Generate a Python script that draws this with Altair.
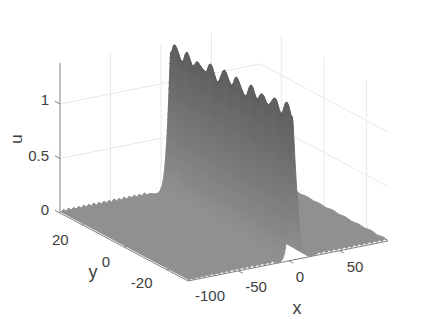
import altair as alt
import numpy as np
import pandas as pd

# ---- values ----
x_range = [-100, 98]
y_range = [-30, 30]
u_top = 1.376
x_ticks = [-100, -50, 0, 50]
y_ticks = [20, 0, -20]
u_ticks = [0, 0.5, 1]
u_tick_labels = ["0", "0.5", "1"]
x_label_shift = [(22, 15), (17.5, 16), (11, 16), (15.5, 16)]
y_label_shift = [(-21, 16), (-18, 15), (-25, 13)]
u_label_shift = [(-11, -3), (-11, -3), (-11, -4)]

crest_y = [30, 29, 28.3, 27.6, 26.9, 26, 25, 24.2, 23.4, 22.4, 21.7, 21, 20, 19.5, 18.8, 18, 17.1, 16.4, 15.7, 14.5, 13.3, 12.5, 11.8, 10.9, 10.1, 9.3, 8.2, 7.4, 6.7, 5.9, 4.1, 3.3, 2.5, 1.2, 0.5, -0.1, -0.9, -1.9, -2.6, -3.3, -4.8, -6.1, -6.9, -7.7, -9, -9.8, -10.6, -11.6, -12.2, -12.8, -13.5, -14.4, -15.2, -16, -17.2, -18.1, -19, -20.7, -21.5, -22.3, -23.4, -24.4, -25.2, -26.5, -27.3, -28, -29.2, -30]
crest_u = [1.257, 1.30, 1.355, 1.365, 1.35, 1.31, 1.265, 1.245, 1.27, 1.345, 1.362, 1.345, 1.30, 1.275, 1.264, 1.285, 1.32, 1.327, 1.315, 1.295, 1.28, 1.276, 1.30, 1.36, 1.375, 1.355, 1.295, 1.255, 1.246, 1.27, 1.375, 1.392, 1.375, 1.32, 1.295, 1.29, 1.31, 1.375, 1.389, 1.375, 1.315, 1.27, 1.261, 1.285, 1.375, 1.393, 1.375, 1.325, 1.30, 1.295, 1.32, 1.358, 1.367, 1.355, 1.31, 1.296, 1.32, 1.385, 1.396, 1.38, 1.315, 1.28, 1.31, 1.405, 1.421, 1.40, 1.325, 1.305]
crest_mean = 1.33
ridge_end_x = [3.5, 9.0]

profile_d = [-14, -12, -11, -10, -9.5, -9, -8.5, -8, -7.5, -7, -6.5, -6.25, -6, -5.75, -5.5, -5.25, -5, -4.75, -4.5, -4.25, -4, -3.75, -3.5, -3.25, -3, -2.75, -2.5, -2.25, -2, -1.75, -1.5, -1.25, -1, -0.75, -0.5, -0.25, 0, 0.5, 1, 2, 3, 4, 5, 6, 7, 8, 9, 11, 13, 15, 17.5]
profile_f = [0, .006, .012, .02, .027, .035, .045, .058, .075, .095, .12, .135, .15, .167, .185, .205, .226, .25, .275, .30, .33, .36, .39, .425, .46, .5, .54, .58, .625, .67, .72, .77, .82, .87, .92, .97, 1, .96, .9, .75, .62, .5, .41, .32, .22, .15, .09, .05, .025, .01, 0]

floor_x = [-99, -96.5, -94, -91.5, -89, -86.5, -84, -81.5, -79, -76.5, -74, -71.5, -69, -66.5, -64, -61.5, -59, -56.5, -54, -51.5, -49, -46.5, -44, -41.5, -39, -36.5, -34, -31.5, -29, -26.5, -24, -21.5, -19, -16.5, -14, -11.5]
floor_back = [.006, .028, .005, .030, .006, .027, .007, .029, .005, .030, .007, .028, .006, .031, .005, .028, .007, .030, .006, .028, .005, .031, .007, .028, .006, .030, .005, .029, .008, .030, .006, .028, .007, .031, .008, .014]
floor_front = [.004, .016, .005, .018, .006, .018, .007, .020, .006, .022, .007, .020, .006, .022, .007, .022, .006, .026, .007, .024, .006, .026, .007, .024, .006, .026, .007, .024, .008, .026, .006, .024, .008, .026, .008, .018]

right_x = [27, 29.5, 32, 34.5, 37, 39.5, 42, 44.5, 47, 49.5, 52, 54.5, 57, 59.5, 62, 64.5, 67, 69.5, 72, 74.5, 77, 79.5, 82, 84.5, 87, 89.5, 92, 94.5, 97]
right_back = [.006, .010, .007, .012, .006, .008, .012, .006, .011, .007, .010, .012, .006, .009, .013, .006, .010, .007, .012, .006, .010, .008, .012, .006, .010, .007, .012, .006, .008]
right_front = [.007, .026, .008, .026, .007, .024, .007, .026, .008, .026, .007, .026, .008, .024, .007, .026, .008, .026, .007, .024, .008, .026, .007, .026, .008, .024, .007, .026, .008]
right_edge_y = [-28, -25, -22, -19, -16, -13, -10, -7, -4, -1, 2, 5, 8, 11, 14, 17, 20, 23, 26, 29]
right_edge_u = [.014, .004, .016, .006, .012, .004, .014, .006, .016, .004, .012, .006, .014, .004, .016, .006, .012, .004, .014, .006]

label_font = "Liberation Sans"
text_color = "#404040"
axis_color = "#808080"
grid_color = "#e9e9e9"
shade_domain = [0, 1.35]
shade_range = ["#909090", "#5e5e5e"]


def project(x, y, u):
    t = (y_range[1] - y) / 60.0
    return (60 + (x + 100) * 1.01 + t * 128, 213 - (x + 100) * 0.202 + t * 68 - u * 109)


def table(rows):
    recs = []
    for sid, pts, shade in rows:
        for i, (x, y, u) in enumerate(pts):
            px, py = project(x, y, u)
            recs.append(dict(strip=sid, i=i, px=px, py=py, shade=shade))
    return pd.DataFrame(recs)


xa, xb = x_range
ya, yb = y_range
crest_x = np.interp(crest_y, y_range, ridge_end_x).tolist()


def height(cu, f):
    # the ripple of the crest fades quickly down the face of the ridge
    return crest_mean * f + (cu - crest_mean) * f ** 4


# ---- wall grid ----
grid = []
k = 0
for x in [-50, 0, 50]:
    grid.append((k, [(x, yb, 0), (x, yb, u_top)], 0)); k += 1
for y in y_ticks:
    grid.append((k, [(xb, y, 0), (xb, y, u_top)], 0)); k += 1
for u in [0.5, 1]:
    grid.append((k, [(xa, yb, u), (xb, yb, u), (xb, ya, u)], 0)); k += 1

# ---- axes and ticks ----
axes = [(0, [(xa, yb, u_top), (xa, yb, 0), (xa, ya, 0), (xb, ya, 0)], 0)]
k = 1
for u in u_ticks:
    axes.append((k, [(xa, yb, u), (xa, yb + 2.4, u)], 0)); k += 1
for y in y_ticks:
    axes.append((k, [(xa, y, 0), (xa + 8, y, 0)], 0)); k += 1
for x in x_ticks[1:]:
    axes.append((k, [(x, ya, 0), (x, ya - 2, 0)], 0)); k += 1

# ---- surface: flat parts as one outline each, ridge strips far to near ----
edge_pts = [(xb, y, u) for y, u in zip(right_edge_y, right_edge_u)]
right_poly = ([(crest_x[-1] + 17.5, ya, 0)]
              + [(x, ya, u) for x, u in zip(right_x, right_front)]
              + [(xb, ya, 0.004)] + edge_pts + [(xb, yb, 0.004)]
              + [(x, yb, u) for x, u in zip(right_x, right_back)][::-1]
              + [(crest_x[0] + 17.5, yb, 0)])
left_poly = ([(x, ya, u) for x, u in zip(floor_x, floor_front)]
             + [(crest_x[-1] - 14, ya, 0), (crest_x[0] - 14, yb, 0)]
             + [(x, yb, u) for x, u in zip(floor_x, floor_back)][::-1])

strips = [(0, right_poly, 0.0)]
k = 1
for j in range(len(profile_d) - 2, -1, -1):
    d0, d1 = profile_d[j], profile_d[j + 1]
    f0, f1 = profile_f[j], profile_f[j + 1]
    fwd = [(cx + d0, cy, height(cu, f0)) for cx, cy, cu in zip(crest_x, crest_y, crest_u)]
    rev = [(cx + d1, cy, height(cu, f1)) for cx, cy, cu in zip(crest_x, crest_y, crest_u)][::-1]
    strips.append((k, fwd + rev, crest_mean * (f0 + f1) / 2)); k += 1
strips.append((k, left_poly, 0.0))

# ---- text ----
labels = []
for x, (dx, dy) in zip(x_ticks, x_label_shift):
    px, py = project(x, ya, 0)
    labels.append(dict(px=px + dx, py=py + dy, t=str(x)))
for y, (dx, dy) in zip(y_ticks, y_label_shift):
    px, py = project(xa, y, 0)
    labels.append(dict(px=px + dx, py=py + dy, t=str(y)))
labels_df = pd.DataFrame(labels)
u_labels = []
for u, s, (dx, dy) in zip(u_ticks, u_tick_labels, u_label_shift):
    px, py = project(xa, yb, u)
    u_labels.append(dict(px=px + dx, py=py + dy, t=s))
u_labels_df = pd.DataFrame(u_labels)
titles = pd.DataFrame([
    dict(px=297, py=309, t="x"),
    dict(px=93, py=273, t="y"),
])

X = alt.X("px:Q", scale=alt.Scale(domain=[8, 421], zero=False, nice=False), axis=None)
Y = alt.Y("py:Q", scale=alt.Scale(domain=[317, 8], zero=False, nice=False), axis=None)
ORD = alt.Order("i:Q")

grid_layer = alt.Chart(table(grid)).mark_line(color=grid_color, strokeWidth=1).encode(
    x=X, y=Y, detail="strip:N", order=ORD)
axes_layer = alt.Chart(table(axes)).mark_line(color=axis_color, strokeWidth=1).encode(
    x=X, y=Y, detail="strip:N", order=ORD)
shade_scale = alt.Scale(domain=shade_domain, range=shade_range)
surface_layer = alt.Chart(table(strips)).mark_line(strokeWidth=0.9, opacity=1, strokeJoin="round").encode(
    x=X, y=Y, detail="strip:N", order=ORD,
    fill=alt.Fill("shade:Q", scale=shade_scale, legend=None),
    stroke=alt.Stroke("shade:Q", scale=shade_scale, legend=None))
tick_text = alt.Chart(labels_df).mark_text(
    font=label_font, fontSize=15, color=text_color, align="center", baseline="middle").encode(
    x=X, y=Y, text="t:N")
u_text = alt.Chart(u_labels_df).mark_text(
    font=label_font, fontSize=15, color=text_color, align="right", baseline="middle").encode(
    x=X, y=Y, text="t:N")
title_text = alt.Chart(titles).mark_text(
    font=label_font, fontSize=18, color=text_color, align="center", baseline="middle").encode(
    x=X, y=Y, text="t:N")
u_title = alt.Chart(pd.DataFrame([dict(px=16.5, py=139, t="u")])).mark_text(
    font=label_font, fontSize=17, color=text_color, align="center", baseline="middle", angle=270).encode(
    x=X, y=Y, text="t:N")

chart = alt.layer(grid_layer, axes_layer, surface_layer, tick_text, u_text, title_text, u_title).properties(
    width=413, height=309, padding=0, autosize=alt.AutoSizeParams(type="none"),
).configure_view(stroke=None)

chart.save("out.html", embed_options={"renderer": "svg", "actions": False})
